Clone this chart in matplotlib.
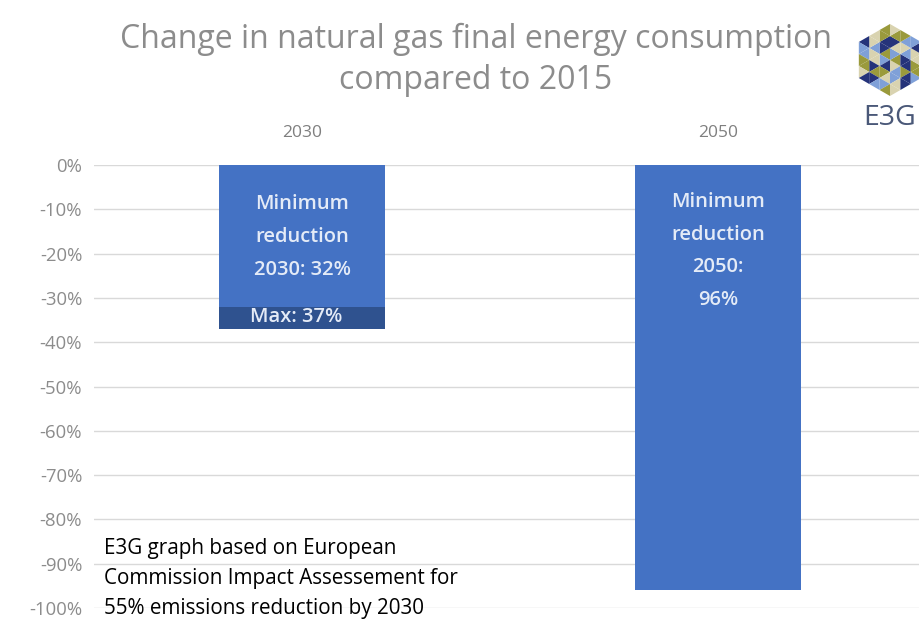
#! /bin/python3

import numpy as np
from matplotlib import pyplot as plt
from matplotlib.patches import Polygon
import matplotlib.ticker as mticker

# DATA
years = ["2030", "2050"]
min_change = [-32, -96]
max_change = [-37, None]
y_ticks = list(range(0, -101, -10))
bar_texts = ["Minimum\nreduction\n2030: 32%", "Minimum\nreduction\n2050:\n96%"]
bar_text_y = [-16.2, -19.4]
max_text = "Max: 37%"
note = ("E3G graph based on European\nCommission Impact Assessement for\n"
        "55% emissions reduction by 2030")

W, H = 920, 621
plt.rcParams['font.family'] = ['Open Sans', 'DejaVu Sans']

fig = plt.figure(figsize=(W / 100, H / 100), dpi=100)
ax = fig.add_axes([94 / W, 1 - 608 / H, 832 / W, 443 / H])

x = np.arange(len(years))
blue = "#4472c4"
dark = "#2f528f"
txt_col = "#e4ebf7"

# BARS
ax.bar(x, min_change, width=0.4, color=blue, zorder=2)
for i, m in enumerate(max_change):
    if m is not None:
        ax.bar(x[i], m - min_change[i], bottom=min_change[i], width=0.4,
               color=dark, zorder=2)
        ax.text(x[i] - 0.015, (m + min_change[i]) / 2 + 0.2, max_text,
                ha="center", va="center", color=txt_col, fontsize=14.5,
                fontweight="semibold", zorder=3)

for i, t in enumerate(bar_texts):
    ax.text(x[i], bar_text_y[i], t, ha="center", va="center", color=txt_col,
            fontsize=14.5, fontweight="semibold", linespacing=1.85, zorder=3)

# AXES
ax.set_xlim(-0.5, 1.5)
ax.set_ylim(-100, 0)
ax.set_xticks(x)
ax.set_xticklabels(years)
ax.xaxis.tick_top()
ax.tick_params(axis="x", length=0, pad=17, labelsize=12.5, labelcolor="#7f7f7f")
ax.set_yticks(y_ticks)
ax.yaxis.set_major_formatter(mticker.FuncFormatter(lambda v, p: f"{v:.0f}%"))
ax.tick_params(axis="y", length=0, pad=8.5, labelsize=13.3, labelcolor="#8c8c8c")
ax.grid(axis="y", color="#d9d9d9", lw=1, zorder=0)
for s in ax.spines.values():
    s.set_visible(False)

# TITLE
fig.text(476 / W, 1 - 60 / H,
         "Change in natural gas final energy consumption\ncompared to 2015",
         ha="center", va="center", fontsize=23, color="#8c8c8c",
         linespacing=1.32)

# NOTE
ax.text(-0.476, -93.3, note, ha="left", va="center", fontsize=14.9,
        color="black", linespacing=1.55, zorder=3)

# LOGO
cx, cy, r = 890, 60, 36
cols = ["#9a9a3c", "#7fa0d8", "#25337a", "#d9d3b0"]
ang = np.deg2rad(90 + 60 * np.arange(7))
verts = [np.array((cx + r * np.cos(a), cy - r * np.sin(a))) for a in ang]
c = np.array([cx, cy])
n = 3
for j in range(6):
    a, b = verts[j], verts[j + 1]
    ea, eb = (a - c) / n, (b - c) / n
    for p in range(n):
        for q in range(n - p):
            p0 = c + p * ea + q * eb
            tris = [[p0, p0 + ea, p0 + eb]]
            if q < n - p - 1:
                tris.append([p0 + ea, p0 + ea + eb, p0 + eb])
            for k, tri in enumerate(tris):
                ci = (2 * p + q + j + 2 * k) % 4
                pts = [(t[0] / W, 1 - t[1] / H) for t in tri]
                fig.add_artist(Polygon(pts, closed=True,
                                       transform=fig.transFigure,
                                       color=cols[ci], lw=0))
fig.text(890 / W, 1 - 118 / H, "E3G", ha="center", va="center",
         fontsize=20.5, color="#4a5878")

fig.savefig("out.png", dpi=100)
